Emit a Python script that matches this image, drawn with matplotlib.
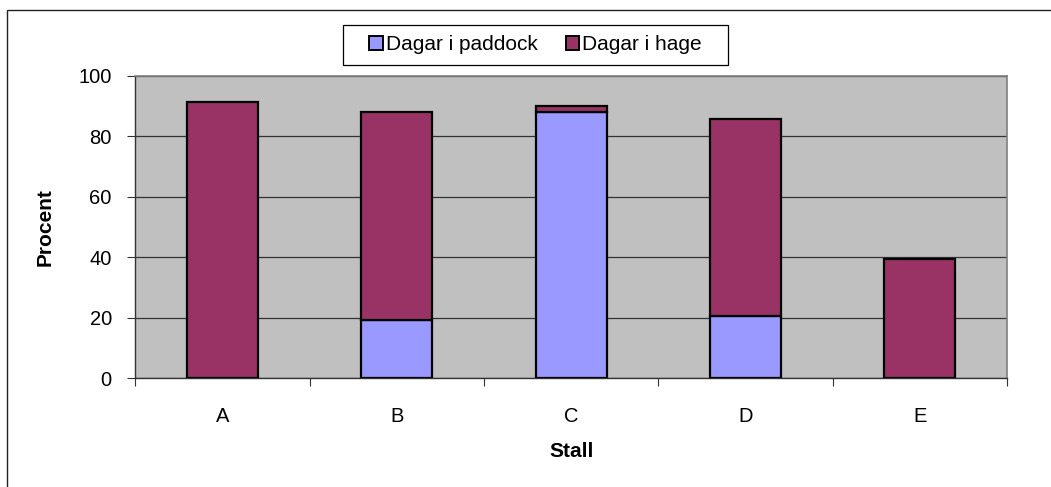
import matplotlib
matplotlib.use("Agg")
import matplotlib.pyplot as plt
from matplotlib.patches import Rectangle

plt.rcParams['font.family'] = ['Liberation Sans', 'DejaVu Sans']

stall = ["A", "B", "C", "D", "E"]
paddock = [0, 19.2, 88.2, 20.5, 0]
hage = [91.5, 68.8, 2.0, 65.3, 39.6]

fig = plt.figure(figsize=(10.51, 4.87), dpi=100)
ax = fig.add_axes([0.1288, 0.2232, 0.958 - 0.1288, 0.844 - 0.2232])
ax.set_facecolor("#C0C0C0")

x = range(len(stall))
w = 0.407
ax.bar(x, paddock, w, color="#9999FF", edgecolor="black", linewidth=1.6,
       label="Dagar i paddock", zorder=3)
ax.bar(x, hage, w, bottom=paddock, color="#993366", edgecolor="black",
       linewidth=1.6, label="Dagar i hage", zorder=3)

ax.set_xlim(-0.5, len(stall) - 0.5)
ax.set_ylim(0, 100)
ax.set_yticks(range(0, 101, 20))
ax.yaxis.grid(True, color="#333333", linewidth=0.9, zorder=1)
ax.set_axisbelow(True)

# ticks sit between the categories, labels in the middle
ax.set_xticks([i - 0.5 for i in range(len(stall) + 1)])
ax.set_xticklabels([])
ax.set_xticks(list(x), minor=True)
ax.set_xticklabels(stall, minor=True)
ax.tick_params(axis="x", which="minor", length=0, pad=21, labelsize=14.5)
ax.tick_params(axis="x", which="major", length=6, width=0.8, color="#333333")
ax.tick_params(axis="y", length=6, width=0.8, color="#333333", labelsize=14.5, pad=11)

for s in ["top", "right"]:
    ax.spines[s].set_color("#808080")
    ax.spines[s].set_linewidth(1.2)
for s in ["left", "bottom"]:
    ax.spines[s].set_color("#333333")
    ax.spines[s].set_linewidth(1.0)

ax.set_ylabel("Procent", fontsize=15, fontweight="bold", labelpad=17)
ax.set_xlabel("Stall", fontsize=15, fontweight="bold", labelpad=11)

leg = fig.legend(loc="center", bbox_to_anchor=(0.5095, 0.9076), ncol=2,
                 fontsize=15, frameon=False, borderpad=0.3,
                 handlelength=0.63, handleheight=0.63, handletextpad=0.15,
                 columnspacing=1.35)
for h in leg.legend_handles:
    h.set_linewidth(1.4)

# legend box, wider than tall like the original
fig.patches.append(Rectangle((342.7 / 1051, 1 - 65 / 487), 385.6 / 1051, 40 / 487,
                             transform=fig.transFigure, fill=False,
                             edgecolor="black", linewidth=0.9))

fig.patches.append(Rectangle((7 / 1051, -0.05), 1.1, 1 - 9.5 / 487 + 0.05,
                             transform=fig.transFigure, fill=False,
                             edgecolor="#222222", linewidth=1.0))

fig.savefig("out.png", dpi=100)
